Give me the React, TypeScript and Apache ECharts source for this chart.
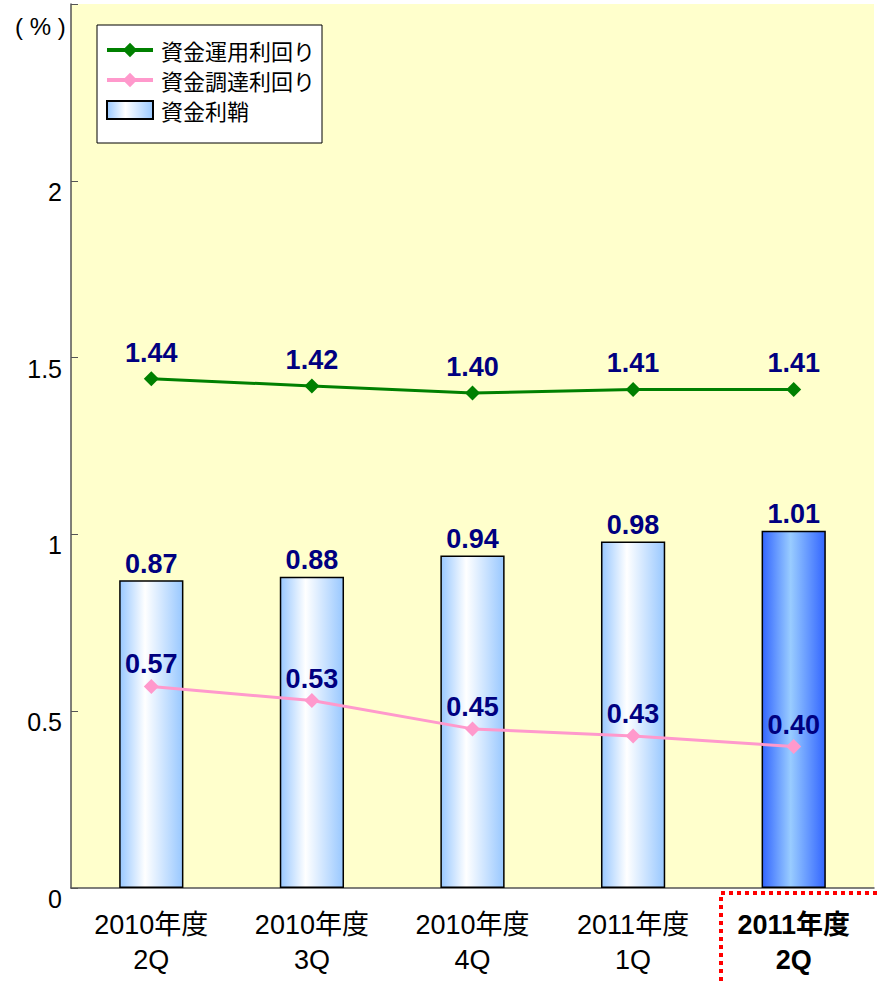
import React, { useEffect, useRef } from "react";
import * as echarts from "echarts";

const categories = ["2010年度\n2Q", "2010年度\n3Q", "2010年度\n4Q", "2011年度\n1Q", "2011年度\n2Q"];
const unyoValues = [1.44, 1.42, 1.40, 1.41, 1.41];
const chotatsuValues = [0.57, 0.53, 0.45, 0.43, 0.40];
const rizayaValues = [0.87, 0.88, 0.94, 0.98, 1.01];
const seriesNames = ["資金運用利回り", "資金調達利回り", "資金利鞘"];

const FONT = "'Liberation Sans', Arial, 'Noto Sans CJK JP', sans-serif";

export default function App() {
  const ref = useRef<HTMLDivElement>(null);
  useEffect(() => {
    document.body.style.margin = "0";
    const chart = echarts.init(ref.current!, null, { renderer: "svg" });
    const lightGrad = new echarts.graphic.LinearGradient(0, 0, 1, 0, [
      { offset: 0, color: "#99c8ff" },
      { offset: 0.4, color: "#ffffff" },
      { offset: 1, color: "#99c8ff" },
    ]);
    const darkGrad = new echarts.graphic.LinearGradient(0, 0, 1, 0, [
      { offset: 0, color: "#3366ff" },
      { offset: 0.45, color: "#99ccff" },
      { offset: 1, color: "#3366ff" },
    ]);
    const fmt = (v: number) => v.toFixed(2);
    const dataLabel = (distance: number) => ({
      show: true,
      position: "top",
      distance,
      formatter: (p: any) => fmt(p.value),
      fontSize: 27,
      fontWeight: "bold",
      color: "#000080",
      fontFamily: FONT,
    });
    chart.setOption({
      animation: false,
      textStyle: { fontFamily: FONT },
      grid: {
        left: 71,
        right: 3,
        top: 4,
        bottom: 94,
        show: true,
        backgroundColor: "#ffffcc",
        borderWidth: 0,
      },
      legend: {
        data: [
          { name: seriesNames[0] },
          { name: seriesNames[1] },
          { name: seriesNames[2], icon: "rect", itemStyle: { borderWidth: 2 } },
        ],
        orient: "vertical",
        left: 97,
        top: 25,
        backgroundColor: "#ffffff",
        borderColor: "#000000",
        borderWidth: 1,
        borderRadius: 0,
        padding: [14, 7, 22, 8],
        itemGap: 8,
        itemWidth: 46,
        itemHeight: 18,
        lineStyle: { width: 4 },
        textStyle: {
          fontSize: 22,
          color: "#000",
          fontFamily: "'Noto Sans CJK JP', sans-serif",
          padding: [0, 0, 0, 3],
        },
      },
      xAxis: {
        type: "category",
        data: categories.map((c, i) =>
          i === categories.length - 1 ? { value: c, textStyle: { fontWeight: "bold" } } : c
        ),
        axisLine: { lineStyle: { color: "#555", width: 1.5 } },
        axisTick: { inside: true, length: 8, lineStyle: { color: "#555" } },
        axisLabel: {
          fontSize: 27,
          color: "#000",
          lineHeight: 35,
          margin: 19,
          interval: 0,
          fontFamily: FONT,
        },
      },
      yAxis: {
        type: "value",
        min: 0,
        max: 2.5,
        interval: 0.5,
        splitLine: { show: false },
        axisLine: { show: true, lineStyle: { color: "#555", width: 1.5 } },
        axisTick: { show: true, inside: true, length: 7, lineStyle: { color: "#555" } },
        axisLabel: {
          fontSize: 25,
          color: "#000",
          margin: 9,
          verticalAlign: "top",
          lineHeight: 22,
          formatter: (v: number) => (v === 2.5 ? "" : String(v)),
        },
      },
      series: [
        {
          name: seriesNames[2],
          type: "bar",
          barWidth: "40%",
          data: rizayaValues.map((v, i) =>
            i === rizayaValues.length - 1 ? { value: v, itemStyle: { color: darkGrad } } : v
          ),
          itemStyle: { color: lightGrad, borderColor: "#000", borderWidth: 1.5 },
          label: dataLabel(3),
          z: 1,
        },
        {
          name: seriesNames[0],
          type: "line",
          data: unyoValues,
          symbol: "diamond",
          symbolSize: 15,
          lineStyle: { color: "#008000", width: 3 },
          itemStyle: { color: "#008000" },
          label: dataLabel(5),
          z: 3,
        },
        {
          name: seriesNames[1],
          type: "line",
          data: chotatsuValues,
          symbol: "diamond",
          symbolSize: 15,
          lineStyle: { color: "#ff99cc", width: 3 },
          itemStyle: { color: "#ff99cc" },
          label: dataLabel(1),
          z: 3,
        },
      ],
      graphic: [
        {
          type: "text",
          left: 15,
          top: 14,
          style: { text: "( % )", fontSize: 24, fill: "#000", fontFamily: FONT },
        },
        {
          type: "rect",
          shape: { x: 721, y: 893, width: 160, height: 100 },
          style: { fill: "none", stroke: "#ff0000", lineWidth: 4, lineDash: [4, 4] },
          z: 10,
        },
      ],
    });
    return () => chart.dispose();
  }, []);
  return <div ref={ref} style={{ width: 877, height: 982 }} />;
}
